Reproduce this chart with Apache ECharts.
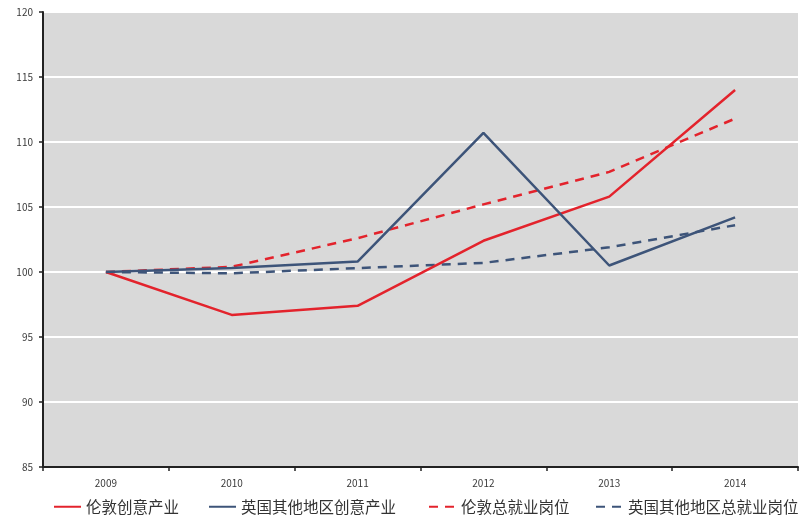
<!DOCTYPE html>
<html>
<head>
<meta charset="utf-8">
<script src="https://cdn.jsdelivr.net/npm/echarts@6/dist/echarts.min.js"></script>
<style>
  html, body { margin: 0; padding: 0; background: #ffffff; }
  #chart { width: 802px; height: 520px; }
</style>
</head>
<body>
<div id="chart"></div>
<script>
// Year categories on the x axis
const years = ['2009', '2010', '2011', '2012', '2013', '2014'];

// Index values (2009 = 100)
const londonCreative = [100, 96.7, 97.4, 102.4, 105.8, 114.0];
const restUkCreative = [100, 100.3, 100.8, 110.7, 100.5, 104.2];
const londonJobs = [100, 100.4, 102.6, 105.2, 107.7, 111.8];
const restUkJobs = [100, 99.9, 100.3, 100.7, 101.9, 103.6];

const seriesNames = ['伦敦创意产业', '英国其他地区创意产业', '伦敦总就业岗位', '英国其他地区总就业岗位'];
const legendLefts = [53, 208, 428, 595];

const red = '#e3232c';
const blue = '#3d5479';
const font = '"Noto Sans CJK SC", "Noto Sans", sans-serif';

const chart = echarts.init(document.getElementById('chart'), null, { renderer: 'canvas' });

function line(name, data, color, dashed) {
  return {
    name: name,
    type: 'line',
    data: data,
    symbol: 'none',
    smooth: false,
    lineStyle: { color: color, width: 2.5, type: dashed ? [9, 7] : 'solid' },
    itemStyle: { color: color },
    z: dashed ? 3 : 4
  };
}

chart.setOption({
  animation: false,
  backgroundColor: '#ffffff',
  grid: {
    left: 43, right: 4, top: 12, bottom: 53,
    show: true, backgroundColor: '#d9d9d9', borderWidth: 0
  },
  legend: seriesNames.map((n, i) => ({
    data: [n],
    left: legendLefts[i],
    top: 499,
    itemWidth: 27,
    itemHeight: 14,
    itemStyle: { opacity: 0 },
    textStyle: { fontFamily: font, fontSize: 15.5, color: '#333333' },
    padding: 0
  })),
  xAxis: {
    type: 'category',
    data: years,
    boundaryGap: true,
    axisLine: { show: true, lineStyle: { color: '#222222', width: 2 } },
    axisTick: { show: true, length: 4, lineStyle: { color: '#222222', width: 1.5 } },
    axisLabel: { fontFamily: font, fontSize: 10, color: '#3a3a3a', margin: 11 },
    splitLine: { show: false }
  },
  yAxis: {
    type: 'value',
    min: 85, max: 120, interval: 5,
    axisLine: { show: true, lineStyle: { color: '#222222', width: 2 } },
    axisTick: { show: true, length: 4, lineStyle: { color: '#222222', width: 1.5 } },
    axisLabel: { fontFamily: font, fontSize: 10, color: '#3a3a3a', margin: 10 },
    splitLine: { show: true, lineStyle: { color: '#ffffff', width: 2 } }
  },
  series: [
    line(seriesNames[0], londonCreative, red, false),
    line(seriesNames[1], restUkCreative, blue, false),
    line(seriesNames[2], londonJobs, red, true),
    line(seriesNames[3], restUkJobs, blue, true)
  ]
});
</script>
</body>
</html>
